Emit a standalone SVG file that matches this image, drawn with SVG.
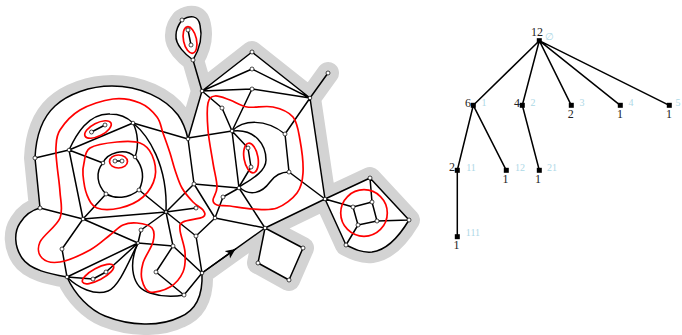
<svg xmlns="http://www.w3.org/2000/svg" width="682" height="335" viewBox="0 0 682 335">
<style>
.e{fill:none;stroke:#000;stroke-width:1.5;stroke-linecap:round;stroke-linejoin:round}
.r{fill:none;stroke:#f00;stroke-width:1.7}
.n{fill:#fff;stroke:#000;stroke-width:.7}
.s{fill:#000;stroke:none}
.v{font-family:"Liberation Serif",serif;font-size:12px;fill:#222;text-anchor:middle}
.b{font-family:"Liberation Serif",serif;font-size:10px;fill:#add8e6;text-anchor:middle}
</style>
<defs>
<marker id="ah" markerUnits="userSpaceOnUse" markerWidth="12" markerHeight="10" refX="10" refY="5" orient="auto"><path d="M0,0.5L10,5L0,9.5L2.5,5z" fill="#000"/></marker>
</defs>
<path id="band" d="M35,158C36,135 42,118 55,106C68,94 90,86 112,86C140,86 165,98 178,115C183,122 186,130 188,139L202,91L193,60C186,55 175,45 176,35C176,28 179,24 182,20C190,15 198,15 200,25C203,38 199,50 193,60L202,91L252,52L310,98L328,73L310,98L325,199L370,178L409,220C400,235 388,250 372,252C362,253 354,249 346,245L325,199L265,228L303,248L289,280L258,263L265,228L202,273C203,295 197,310 180,317C160,327 130,326 105,316C90,310 75,295 67,277C50,274 30,270 22,258C14,246 14,232 20,223C25,215 32,210 40,208Z" fill="#fff" stroke="#d3d3d3" stroke-width="22" stroke-linejoin="round" paint-order="stroke fill"/>
<g id="connectors">
<path class="e" d="M35,158C36,135 42,118 55,106C68,94 90,86 112,86C140,86 165,98 178,115C183,122 186,130 188,139"/>
<path class="e" d="M202,273C203,295 197,310 180,317C160,327 130,326 105,316C90,310 75,295 67,277"/>
<path class="e" d="M67,277C50,274 30,270 22,258C14,246 14,232 20,223C25,215 32,210 40,208"/>
<path class="e" d="M193,60C186,55 175,45 176,35C176,28 179,24 182,20C190,15 198,15 200,25C203,38 199,50 193,60"/>
<path class="e" d="M409,220C400,235 388,250 372,252C362,253 354,249 346,245"/>
<path class="e" d="M69,150C76,135 88,113 110,114C120,114 128,118 133,123"/>
<path class="e" d="M133,123C138,133 139,146 135,157"/>
<path class="e" d="M103,163C107,153 125,147 135,157"/>
<path class="e" d="M103,163C95,172 97,185 106,194"/>
<path class="e" d="M106,194C115,199 128,199 139,190"/>
<path class="e" d="M139,190C144,180 144,168 135,157"/>
<path class="e" d="M133,123C148,135 168,165 166,212"/>
<path class="e" d="M138,243C128,265 132,288 150,293C162,297 174,297 184,295"/>
<path class="e" d="M67,277C78,288 95,296 108,291C118,287 126,268 138,243"/>
<path class="e" d="M232,131C243,120 265,118 285,134"/>
<path class="e" d="M232,131C255,128 266,145 266,160C266,172 250,180 239,187"/>
<path class="e" d="M239,187C250,197 262,193 270,182C275,175 282,172 289,172"/>
<path class="e" d="M35,158L69,150M40,208L35,158M69,150L133,123M133,123L188,139M188,139L202,91M202,91L193,60M188,30L191,45M69,150L83,219M69,150L103,163M115,161L122,161M91.500,132L105,125M106,194L83,219M139,190L166,212M83,219L166,212M83,219L138,243M83,219L62,249M62,249L67,277M40,208L83,219M67,277L138,243M67,277L93,279M93,279L106,272M106,272L138,243M138,243L141,230M138,243L173,246M141,230L166,212M166,212L194,184M166,212L196,208M166,212L173,246M166,212L196,236M188,139L194,184M173,246L202,273M173,246L156,272M156,272L184,295M184,295L202,273M202,273L196,236M196,236L215,218M215,218L194,184M215,218L223,197M223,197L239,188M194,184L239,188M239,188L265,228M215,218L265,228M265,228L325,199M265,228L202,273M265,228L303,248M303,248L289,280M289,280L258,263M258,263L265,228M289,172L325,199M232,131L188,138M202,91L222,108M222,108L232,131M232,131L239,188M232,131L252,89M232,131L248,148M248,148L251,167M251,167L239,187M285,134L289,172M285,134L310,98M202,91L252,52M252,52L310,98M202,91L252,69M252,69L310,98M202,91L252,89M252,89L310,98M310,98L328,73M310,98L325,199M325,199L370,178M370,178L409,220M325,199L346,245M325,199L353,207M353,207L372,202M372,202L377,221M377,221L358,225M358,225L353,207M370,178L372,202M377,221L409,220M358,225L346,245"/>
<line class="e" x1="202" y1="273" x2="235.500" y2="249" marker-end="url(#ah)"/>
<path class="e" d="M539.300,40.700L473.300,105.300M539.300,40.700L522.300,105.300M539.300,40.700L571.300,105.300M539.300,40.700L620.300,105.300M539.300,40.700L669.300,105.300M473.300,105.300L457.300,170.300M473.300,105.300L506.300,170.300M522.300,105.300L539.300,170.300M457.300,170.300L457.300,236.700"/>
</g>
<g id="curves">
<path class="r" d="M57,165C56.300,157.500 55.500,152.800 56,147S56,136.200 60,130S71.200,115.200 80,110S103,100.200 113,99S132.700,100 140,103S153.200,112 157,117S160.800,127 163,133S168,146.800 170,153S173,164.200 175,170S179,182.700 182,188S189.500,198.300 193,202S201.300,207.500 203,210S206.300,215 203,217S186.800,219.800 183,222S179.700,225 180,230S184.500,245 185,252S185.500,266.200 183,272S175.500,283.700 170,287S154.700,293.200 150,292S143.200,284.800 142,280S141.200,269.300 143,263S151.500,247.800 153,242S154.700,231.200 152,228S141.800,223.500 137,223S127.500,223 123,225S115.500,230.800 110,235S98.300,245.500 90,250S68,260.700 60,262S45.300,261.300 42,258S37,248.700 40,242S56.700,226.300 60,218S60.500,200.800 60,192S57.700,172.500 57,165Z"/>
<path class="r" d="M84,163C85.200,158.500 84.500,151.500 90,148S108.700,142.800 117,142S134.200,140.800 140,143S149.500,149.300 152,155S156.500,170 155,177S148.800,191.800 143,197S127.700,206.200 120,208S102.500,210.200 97,208S89.300,200.500 87,195S83.500,180.300 83,175S82.800,167.500 84,163Z"/>
<path class="r" d="M208,130C208.800,140 211.500,153.500 213,163S217,180.800 217,187S213,197 213,200S214.200,204 217,205S224,205.300 230,206S245.200,208.700 253,209S269.700,210.700 277,208S292.700,198.800 297,193S302.500,181.800 303,173S301.700,149.300 300,140S297.500,122.500 293,117S280.700,108.700 273,107S254.200,108.200 247,107S235.300,101.800 230,100S218.700,95.500 215,96S209.200,97.300 208,103S207.200,120 208,130Z"/>
<ellipse class="r" cx="98" cy="129.500" rx="14.500" ry="6.500" transform="rotate(-27 98 129.500)"/>
<ellipse class="r" cx="118.500" cy="161.500" rx="9" ry="6.500"/>
<ellipse class="r" cx="98" cy="274" rx="17.500" ry="6" transform="rotate(-28 98 274)"/>
<ellipse class="r" cx="190" cy="40" rx="6.500" ry="13.500" transform="rotate(-12 190 40)"/>
<ellipse class="r" cx="251" cy="158" rx="7" ry="15" transform="rotate(-10 251 158)"/>
<circle class="r" cx="364" cy="213" r="23.300"/>
</g>
<g id="n1"><circle class="n" cx="182" cy="20" r="2"/></g>
<g id="n2"><circle class="n" cx="193" cy="60" r="2"/></g>
<g id="n3"><circle class="n" cx="188" cy="30" r="2"/></g>
<g id="n4"><circle class="n" cx="191" cy="45" r="2"/></g>
<g id="n5"><circle class="n" cx="202" cy="91" r="1.800"/></g>
<g id="n6"><circle class="n" cx="188" cy="139" r="1.800"/></g>
<g id="n7"><circle class="n" cx="133" cy="123" r="1.800"/></g>
<g id="n8"><circle class="n" cx="69" cy="150" r="1.800"/></g>
<g id="n9"><circle class="n" cx="35" cy="158" r="2"/></g>
<g id="n10"><circle class="n" cx="91.500" cy="132" r="2"/></g>
<g id="n11"><circle class="n" cx="105" cy="125" r="2"/></g>
<g id="n12"><circle class="n" cx="135" cy="157" r="1.800"/></g>
<g id="n13"><circle class="n" cx="103" cy="163" r="1.800"/></g>
<g id="n14"><circle class="n" cx="115" cy="161" r="2"/></g>
<g id="n15"><circle class="n" cx="122" cy="161" r="2"/></g>
<g id="n16"><circle class="n" cx="106" cy="194" r="2"/></g>
<g id="n17"><circle class="n" cx="139" cy="190" r="2"/></g>
<g id="n18"><circle class="n" cx="40" cy="208" r="2"/></g>
<g id="n19"><circle class="n" cx="83" cy="219" r="1.800"/></g>
<g id="n20"><circle class="n" cx="166" cy="212" r="1.500"/></g>
<g id="n21"><circle class="n" cx="196" cy="208" r="2"/></g>
<g id="n22"><circle class="n" cx="194" cy="184" r="2"/></g>
<g id="n23"><circle class="n" cx="215" cy="218" r="1.800"/></g>
<g id="n24"><circle class="n" cx="196" cy="236" r="2"/></g>
<g id="n25"><circle class="n" cx="173" cy="246" r="2"/></g>
<g id="n26"><circle class="n" cx="138" cy="243" r="1.500"/></g>
<g id="n27"><circle class="n" cx="141" cy="230" r="2"/></g>
<g id="n28"><circle class="n" cx="62" cy="249" r="2"/></g>
<g id="n29"><circle class="n" cx="67" cy="277" r="1.800"/></g>
<g id="n30"><circle class="n" cx="93" cy="279" r="2"/></g>
<g id="n31"><circle class="n" cx="106" cy="272" r="2"/></g>
<g id="n32"><circle class="n" cx="156" cy="272" r="2"/></g>
<g id="n33"><circle class="n" cx="184" cy="295" r="2"/></g>
<g id="n34"><circle class="n" cx="202" cy="273" r="1.800"/></g>
<g id="n35"><circle class="n" cx="252" cy="52" r="2"/></g>
<g id="n36"><circle class="n" cx="252" cy="69" r="2"/></g>
<g id="n37"><circle class="n" cx="252" cy="89" r="2"/></g>
<g id="n38"><circle class="n" cx="310" cy="98" r="1.800"/></g>
<g id="n39"><circle class="n" cx="328" cy="73" r="2"/></g>
<g id="n40"><circle class="n" cx="222" cy="108" r="2"/></g>
<g id="n41"><circle class="n" cx="232" cy="131" r="1.800"/></g>
<g id="n42"><circle class="n" cx="285" cy="134" r="2"/></g>
<g id="n43"><circle class="n" cx="289" cy="172" r="2"/></g>
<g id="n44"><circle class="n" cx="239" cy="188" r="1.800"/></g>
<g id="n45"><circle class="n" cx="223" cy="197" r="2"/></g>
<g id="n46"><circle class="n" cx="248" cy="148" r="2"/></g>
<g id="n47"><circle class="n" cx="251" cy="167" r="2"/></g>
<g id="n48"><circle class="n" cx="325" cy="199" r="1.800"/></g>
<g id="n49"><circle class="n" cx="370" cy="178" r="2"/></g>
<g id="n50"><circle class="n" cx="409" cy="220" r="2"/></g>
<g id="n51"><circle class="n" cx="346" cy="245" r="2"/></g>
<g id="n52"><circle class="n" cx="353" cy="207" r="2"/></g>
<g id="n53"><circle class="n" cx="372" cy="202" r="2"/></g>
<g id="n54"><circle class="n" cx="377" cy="221" r="2"/></g>
<g id="n55"><circle class="n" cx="358" cy="225" r="2"/></g>
<g id="n56"><circle class="n" cx="265" cy="228" r="1.800"/></g>
<g id="n57"><circle class="n" cx="303" cy="248" r="2"/></g>
<g id="n58"><circle class="n" cx="289" cy="280" r="2"/></g>
<g id="n59"><circle class="n" cx="258" cy="263" r="2"/></g>
<g id="t0"><rect class="s" x="536.800" y="38.200" width="5" height="5"/><text class="v" x="537" y="36">12</text><text class="b" x="549" y="40">∅</text></g>
<g id="t1"><rect class="s" x="470.800" y="102.800" width="5" height="5"/><text class="v" x="468" y="107">6</text><text class="b" x="484" y="106">1</text></g>
<g id="t2"><rect class="s" x="519.800" y="102.800" width="5" height="5"/><text class="v" x="517" y="107">4</text><text class="b" x="533" y="106">2</text></g>
<g id="t3"><rect class="s" x="568.800" y="102.800" width="5" height="5"/><text class="v" x="570.700" y="118">2</text><text class="b" x="582" y="106">3</text></g>
<g id="t4"><rect class="s" x="617.800" y="102.800" width="5" height="5"/><text class="v" x="620" y="118">1</text><text class="b" x="631" y="106">4</text></g>
<g id="t5"><rect class="s" x="666.800" y="102.800" width="5" height="5"/><text class="v" x="669" y="118">1</text><text class="b" x="678" y="106">5</text></g>
<g id="t11"><rect class="s" x="454.800" y="167.800" width="5" height="5"/><text class="v" x="452" y="171">2</text><text class="b" x="471" y="171">11</text></g>
<g id="t12"><rect class="s" x="503.800" y="167.800" width="5" height="5"/><text class="v" x="505.500" y="183">1</text><text class="b" x="520" y="171">12</text></g>
<g id="t21"><rect class="s" x="536.800" y="167.800" width="5" height="5"/><text class="v" x="538" y="183">1</text><text class="b" x="552" y="171">21</text></g>
<g id="t111"><rect class="s" x="454.800" y="234.200" width="5" height="5"/><text class="v" x="456.500" y="249">1</text><text class="b" x="473" y="236">111</text></g>
</svg>
